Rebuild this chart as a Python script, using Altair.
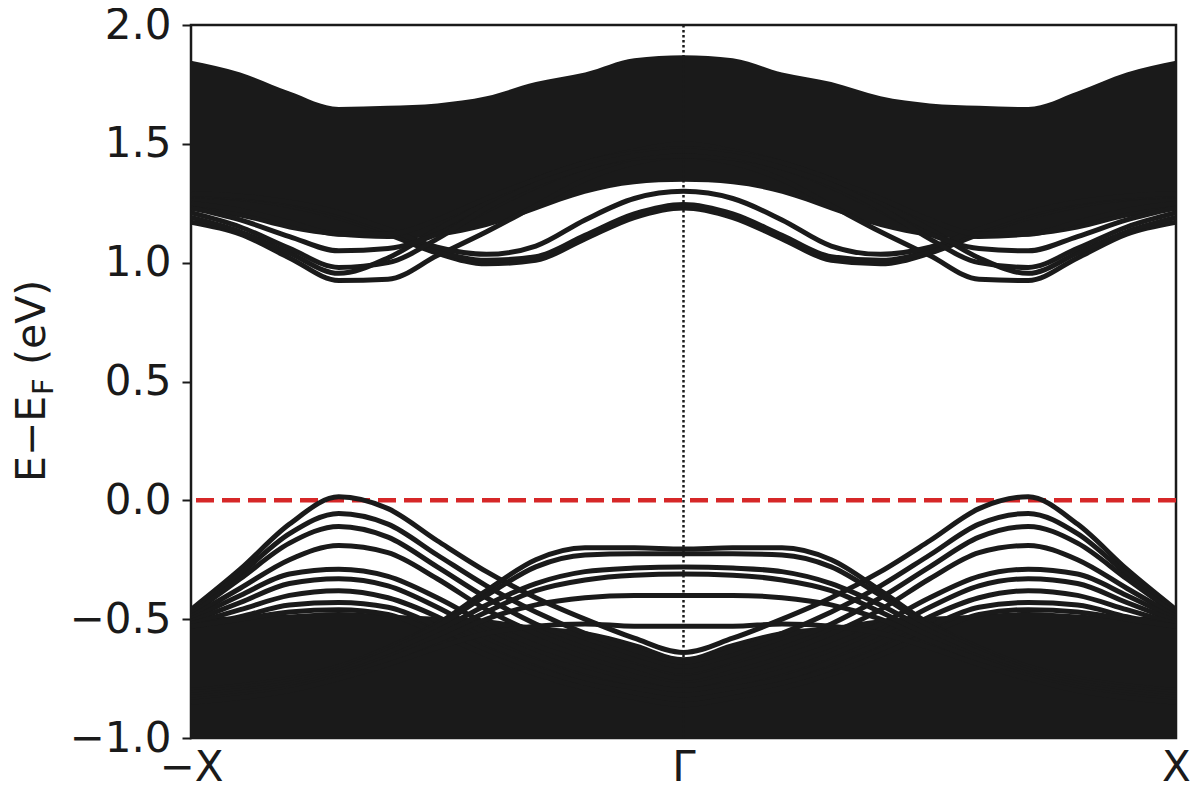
import altair as alt
import pandas as pd

# half path: distance from Gamma (0) to X (1)
D = [0.0, 0.1, 0.2, 0.3, 0.4, 0.5, 0.6, 0.7, 0.8, 0.9, 1.0]

# conduction block envelope (solid region)
COND_TOP = [1.873, 1.86, 1.80, 1.76, 1.70, 1.67, 1.66, 1.655, 1.72, 1.80, 1.85]
COND_BOT = [1.34, 1.33, 1.29, 1.22, 1.15, 1.11, 1.10, 1.11, 1.14, 1.19, 1.22]

# valence block top edge (solid region, down to -1)
VAL_TOP = [-0.66, -0.60, -0.55, -0.53, -0.50, -0.49, -0.48, -0.47, -0.48, -0.49, -0.48]

# resolved conduction bands
C1 = [1.45, 1.42, 1.35, 1.24, 1.13, 1.03, 0.93, 0.925, 1.02, 1.12, 1.17]
C2 = [1.23, 1.19, 1.10, 1.01, 0.995, 1.04, 1.12, 1.19, 1.24, 1.27, 1.28]
C2B = [1.245, 1.205, 1.115, 1.025, 1.01, 1.05, 1.13, 1.20, 1.25, 1.275, 1.285]
C2C = [1.30, 1.27, 1.18, 1.07, 1.035, 1.065, 1.14, 1.21, 1.255, 1.28, 1.29]
C3 = [1.50, 1.47, 1.42, 1.35, 1.25, 1.14, 1.02, 0.955, 1.04, 1.13, 1.19]
C4 = [1.45, 1.44, 1.40, 1.32, 1.22, 1.12, 1.06, 1.05, 1.11, 1.18, 1.23]
C5 = [1.48, 1.46, 1.42, 1.35, 1.27, 1.18, 1.12, 1.12, 1.17, 1.22, 1.25]
C6 = [1.47, 1.45, 1.40, 1.33, 1.23, 1.10, 1.00, 0.98, 1.06, 1.15, 1.21]

# resolved valence bands (peaks between Gamma and X)
V1 = [-0.64, -0.58, -0.50, -0.41, -0.30, -0.17, -0.035, 0.015, -0.10, -0.29, -0.46]
V2 = [-0.68, -0.63, -0.56, -0.47, -0.36, -0.23, -0.10, -0.055, -0.14, -0.31, -0.47]
V3 = [-0.72, -0.67, -0.60, -0.52, -0.41, -0.28, -0.155, -0.11, -0.18, -0.33, -0.48]
V4 = [-0.75, -0.70, -0.64, -0.56, -0.46, -0.33, -0.22, -0.19, -0.25, -0.37, -0.49]
V5 = [-0.78, -0.74, -0.68, -0.61, -0.52, -0.41, -0.32, -0.29, -0.31, -0.40, -0.50]
V6 = [-0.80, -0.77, -0.72, -0.65, -0.56, -0.45, -0.36, -0.33, -0.35, -0.43, -0.51]
V7 = [-0.82, -0.79, -0.75, -0.68, -0.60, -0.49, -0.41, -0.38, -0.40, -0.46, -0.52]
V8 = [-0.84, -0.81, -0.77, -0.71, -0.63, -0.53, -0.45, -0.43, -0.44, -0.49, -0.53]
V9 = [-0.86, -0.83, -0.79, -0.73, -0.65, -0.56, -0.48, -0.46, -0.47, -0.50, -0.53]
# bands flat near Gamma
G1 = [-0.205, -0.20, -0.20, -0.25, -0.38, -0.52, -0.62, -0.70, -0.75, -0.78, -0.80]
G2 = [-0.225, -0.225, -0.23, -0.28, -0.40, -0.53, -0.63, -0.71, -0.76, -0.79, -0.81]
G3 = [-0.28, -0.285, -0.30, -0.35, -0.44, -0.55, -0.64, -0.72, -0.77, -0.80, -0.82]
G4 = [-0.31, -0.315, -0.335, -0.38, -0.47, -0.57, -0.66, -0.73, -0.78, -0.81, -0.83]
G5 = [-0.40, -0.40, -0.41, -0.44, -0.50, -0.59, -0.67, -0.74, -0.79, -0.82, -0.84]
G6 = [-0.53, -0.53, -0.52, -0.53, -0.56, -0.62, -0.69, -0.75, -0.80, -0.83, -0.85]

BANDS = {"c1": C1, "c2": C2, "c2b": C2B, "c2c": C2C, "c3": C3, "c4": C4, "c5": C5, "c6": C6,
         "v1": V1, "v2": V2, "v3": V3, "v4": V4, "v5": V5, "v6": V6, "v7": V7, "v8": V8,
         "v9": V9, "g1": G1, "g2": G2, "g3": G3, "g4": G4, "g5": G5, "g6": G6}

TICK_POS = [-1, 0, 1]
TICK_LABELS = ["−X", "Γ", "X"]
Y_TICKS = [-1.0, -0.5, 0.0, 0.5, 1.0, 1.5, 2.0]

K = [-d for d in reversed(D)] + D[1:]


def full(half):
    return list(reversed(half)) + half[1:]


rows = []
for name, half in BANDS.items():
    for k, e in zip(K, full(half)):
        rows.append({"k": k, "E": e, "band": name})
lines_df = pd.DataFrame(rows)

cond_df = pd.DataFrame({"k": K, "top": full(COND_TOP), "bot": full(COND_BOT)})
val_df = pd.DataFrame({"k": K, "top": full(VAL_TOP), "bot": [-1.0] * len(K)})

BAND_COLOR = "#1a1a1a"
FONT = "DejaVu Sans"

xscale = alt.Scale(domain=[-1, 1], nice=False, zero=False)
yscale = alt.Scale(domain=[-1, 2], nice=False, zero=False)

label_expr = ("datum.value < -0.5 ? '%s' : (datum.value > 0.5 ? '%s' : '%s')"
              % (TICK_LABELS[0], TICK_LABELS[2], TICK_LABELS[1]))

xaxis = alt.Axis(values=TICK_POS, labelExpr=label_expr, title=None, ticks=False, domain=False,
                 grid=False, labelFont=FONT, labelFontSize=42, labelColor=BAND_COLOR,
                 labelPadding=9, labelFlush=False)
yaxis = alt.Axis(values=Y_TICKS, format=".1f", title=None, domain=False, grid=False,
                 tickSize=9, tickWidth=2, tickColor=BAND_COLOR, labelFont=FONT,
                 labelFontSize=42, labelColor=BAND_COLOR, labelPadding=11, labelFlush=False)

cond_area = alt.Chart(cond_df).mark_area(color=BAND_COLOR, interpolate="monotone", clip=True).encode(
    x=alt.X("k:Q", scale=xscale, axis=xaxis),
    y=alt.Y("top:Q", scale=yscale, axis=yaxis),
    y2="bot:Q",
)
val_area = alt.Chart(val_df).mark_area(color=BAND_COLOR, interpolate="monotone", clip=True).encode(
    x=alt.X("k:Q", scale=xscale),
    y=alt.Y("top:Q", scale=yscale),
    y2="bot:Q",
)

fermi = alt.Chart(pd.DataFrame({"E": [0.0]})).mark_rule(
    color="#d62728", strokeWidth=4.5, strokeDash=[18, 8]
).encode(y=alt.Y("E:Q", scale=yscale))

bands = alt.Chart(lines_df).mark_line(
    color=BAND_COLOR, strokeWidth=5, interpolate="monotone", clip=True
).encode(
    x=alt.X("k:Q", scale=xscale),
    y=alt.Y("E:Q", scale=yscale),
    detail="band:N",
)

gamma = alt.Chart(pd.DataFrame({"k": [0.0]})).mark_rule(
    color=BAND_COLOR, strokeWidth=2.5, strokeDash=[2.5, 2.5]
).encode(x=alt.X("k:Q", scale=xscale))

title_df = pd.DataFrame({"t": [0]})
t1 = alt.Chart(title_df).mark_text(
    text="E−E", font=FONT, fontSize=41, angle=270, align="left", baseline="alphabetic",
    color=BAND_COLOR
).encode(x=alt.value(-146), y=alt.value(457))
t2 = alt.Chart(title_df).mark_text(
    text="F", font=FONT, fontSize=29, angle=270, align="left", baseline="alphabetic",
    color=BAND_COLOR, dx=87, dy=8
).encode(x=alt.value(-146), y=alt.value(457))
t3 = alt.Chart(title_df).mark_text(
    text="(eV)", font=FONT, fontSize=41, angle=270, align="left", baseline="alphabetic",
    color=BAND_COLOR, dx=117
).encode(x=alt.value(-146), y=alt.value(457))

chart = alt.layer(cond_area, val_area, fermi, bands, gamma, t1, t2, t3).properties(
    width=985, height=713,
    autosize=alt.AutoSizeParams(type="none"),
    padding={"left": 183, "top": 17, "right": 16, "bottom": 55},
).configure(
    background="white",
    view=alt.ViewConfig(stroke="#1a1a1a", strokeWidth=2.5),
)

chart.save("out.html", embed_options={"renderer": "svg", "actions": False})
